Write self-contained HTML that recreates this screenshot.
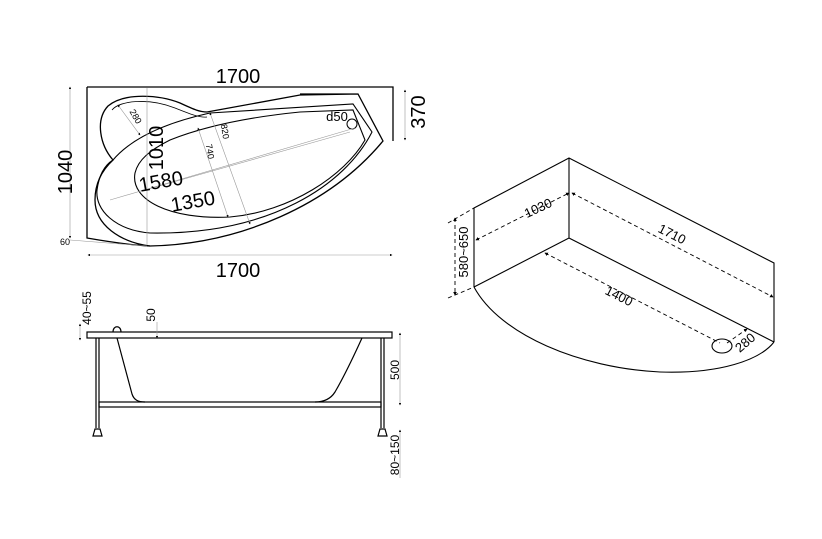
<!DOCTYPE html>
<html><head><meta charset="utf-8"><style>
html,body{margin:0;padding:0;background:#fff;}
svg{display:block;font-family:"Liberation Sans",Arial,sans-serif;}
</style></head><body>
<svg width="822" height="539" viewBox="0 0 822 539" xmlns="http://www.w3.org/2000/svg">
<defs>
<marker id="a" viewBox="0 0 6 6" refX="5" refY="3" markerWidth="4" markerHeight="4" orient="auto-start-reverse"><path d="M0,0L6,3L0,6z" fill="#000"/></marker>
</defs>
<g fill="none" stroke="#000" stroke-width="1.3">
<path d="M87,87 L393,87 L393,141 M87,87 L87,238 C110,242 130,245 150,246"/>
<path d="M150,246 C240,244 330,205 383,141 L358,94 L300,94 M150,246 C120,242 95,225 95,200 C95,185 100,172 113,160 C100,145 95,120 108,106 C125,92 160,95 180,103 C195,110 200,112 207,112 L300,95 L358,94"/>
<path d="M113,160 C130,140 160,124 210,113 L353,104 L372,132 C345,185 270,235 150,233 C115,230 95,210 97,190 C99,175 105,165 113,160" stroke-width="1.1"/>
<path d="M135,173 C130,200 170,220 230,217 C290,212 345,175 365,140 L353,110 L300,112 C240,118 200,128 170,140 C150,150 138,160 135,173 Z" stroke-width="1.1"/>
<path d="M112,110 C120,100 150,98 175,108 C190,114 200,118 207,117" stroke-width="0.8"/>
<circle cx="352" cy="124" r="5" stroke-width="1"/>
</g>
<g stroke="#999" stroke-width="0.6" fill="none">
<line x1="70" y1="87" x2="70" y2="238" marker-start="url(#a)" marker-end="url(#a)"/>
<line x1="405" y1="90" x2="405" y2="140" marker-start="url(#a)" marker-end="url(#a)"/>
<line x1="88" y1="255" x2="392" y2="255" marker-start="url(#a)" marker-end="url(#a)"/>
<line x1="147" y1="88" x2="147" y2="245"/>
<line x1="110" y1="200" x2="355" y2="128"/>
<line x1="145" y1="190" x2="350" y2="132"/>
<line x1="198" y1="128" x2="228" y2="217" marker-start="url(#a)" marker-end="url(#a)"/>
<line x1="210" y1="113" x2="250" y2="224" marker-start="url(#a)" marker-end="url(#a)"/>
<line x1="118" y1="105" x2="140" y2="135" marker-start="url(#a)" marker-end="url(#a)"/>
<line x1="70" y1="240" x2="147" y2="246"/>
</g>
<g font-size="20" fill="#000">
<text x="238" y="83" text-anchor="middle">1700</text>
<text x="238" y="277" text-anchor="middle">1700</text>
<text transform="translate(72,172) rotate(-90)" text-anchor="middle">1040</text>
<text transform="translate(425,112) rotate(-90)" text-anchor="middle">370</text>
<text transform="translate(163,148) rotate(-90)" text-anchor="middle">1010</text>
<text transform="translate(162,188) rotate(-10)" text-anchor="middle">1580</text>
<text transform="translate(194,208) rotate(-10)" text-anchor="middle">1350</text>
</g>
<g font-size="13" fill="#000">
<text x="337" y="121" text-anchor="middle">d50</text>
</g>
<g font-size="9" fill="#000">
<text x="60" y="245">60</text>
<text transform="translate(133,118) rotate(60)" text-anchor="middle">280</text>
<text transform="translate(207,152) rotate(80)" text-anchor="middle">740</text>
<text transform="translate(222,132) rotate(80)" text-anchor="middle">820</text>
</g>

<g fill="none" stroke="#000" stroke-width="1.2">
<rect x="87" y="332" width="305" height="6"/>
<path d="M113,332 C113,325 121,325 121,332"/>
<line x1="96" y1="338" x2="96" y2="428"/><line x1="99" y1="338" x2="99" y2="428"/>
<line x1="381" y1="338" x2="381" y2="428"/><line x1="384" y1="338" x2="384" y2="428"/>
<rect x="99" y="402" width="282" height="5"/>
<path d="M117,338 L132,394 C134,400 138,402 145,402 M362,338 C352,360 342,380 335,392 C330,400 322,402 315,402"/>
<path d="M93,436 L95,429 L100,429 L102,436 Z M378,436 L380,429 L385,429 L387,436 Z" fill="#fff"/>
</g>
<g stroke="#999" stroke-width="0.6" fill="none">
<line x1="80" y1="324" x2="80" y2="340" marker-start="url(#a)" marker-end="url(#a)"/>
<line x1="157" y1="322" x2="157" y2="338" marker-end="url(#a)"/>
<line x1="400" y1="333" x2="400" y2="405" marker-start="url(#a)" marker-end="url(#a)"/>
<line x1="400" y1="430" x2="400" y2="478" marker-start="url(#a)"/>
</g>
<g font-size="12" fill="#000">
<text transform="translate(91,308) rotate(-90)" text-anchor="middle">40~55</text>
<text transform="translate(155,315) rotate(-90)" text-anchor="middle">50</text>
<text transform="translate(399,370) rotate(-90)" text-anchor="middle">500</text>
<text transform="translate(399,455) rotate(-90)" text-anchor="middle">80~150</text>
</g>

<g fill="none" stroke="#000" stroke-width="1.1">
<path d="M474,287 L474,208 L569,158 L774,263 L774,342 M569,158 L569,238 L774,342 M474,287 L569,238"/>
<path d="M474,287 C500,335 580,368 660,372 C720,374 760,360 774,342"/>
<ellipse cx="722" cy="346" rx="10" ry="7"/>
</g>
<g stroke="#000" stroke-width="0.9" fill="none" stroke-dasharray="4,3">
<line x1="476" y1="240" x2="569" y2="193" marker-start="url(#a)" marker-end="url(#a)"/>
<line x1="572" y1="193" x2="773" y2="297" marker-start="url(#a)" marker-end="url(#a)"/>
<line x1="545" y1="253" x2="720" y2="343" marker-start="url(#a)"/>
<line x1="727" y1="343" x2="747" y2="329" marker-end="url(#a)"/>
<line x1="455" y1="218" x2="455" y2="295" marker-start="url(#a)" marker-end="url(#a)"/>
<line x1="448" y1="223" x2="474" y2="208"/>
<line x1="448" y1="298" x2="474" y2="287"/>
</g>
<g font-size="13" fill="#000">
<text transform="translate(540,212) rotate(-25)" text-anchor="middle">1030</text>
<text transform="translate(670,238) rotate(27)" text-anchor="middle">1710</text>
<text transform="translate(617,300) rotate(27)" text-anchor="middle">1400</text>
<text transform="translate(748,346) rotate(-40)" text-anchor="middle">280</text>
<text transform="translate(468,252) rotate(-90)" text-anchor="middle">580~650</text>
</g>
</svg>
</body></html>
